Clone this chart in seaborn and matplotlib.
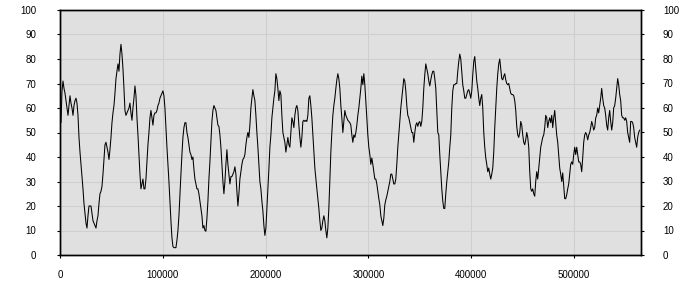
import numpy as np
import pandas as pd
import matplotlib
matplotlib.use("Agg")
import matplotlib.pyplot as plt
import seaborn as sns

# ---- data ----
x_start = 0
x_end = 564000
y_ticks = [0, 10, 20, 30, 40, 50, 60, 70, 80, 90, 100]
x_ticks = [0, 100000, 200000, 300000, 400000, 500000]

values = [
    # 0 .. ~69000
    58, 54, 67, 71, 68, 66, 63, 60, 57, 61, 65, 62, 60, 57, 61, 63, 64, 62, 57, 48,
    42, 37, 32, 27, 21, 17, 13, 11, 16, 20, 20, 20, 17, 14, 13, 12, 11, 14, 16, 21,
    25, 26, 28, 33, 39, 45, 46, 44, 42, 39, 43, 48, 54, 58, 61, 66, 72, 75, 78, 75,
    82, 86, 82, 76, 68, 59, 57, 58, 59, 60, 62, 58,
    # ~70000 .. ~140000
    55, 60, 64, 69, 65, 56, 49, 41, 33, 27, 29, 31, 27, 27, 31, 38, 45, 50, 56, 59,
    56, 53, 57, 58, 58, 59, 61, 62, 64, 65, 66, 67, 65, 60, 52, 44, 37, 30, 22, 14,
    7, 3.5, 3, 3, 3, 6, 10, 16, 25, 33, 41, 48, 52, 54, 54, 50, 48, 45, 42, 41,
    39, 40, 35, 31, 29, 27, 27, 25, 22, 19, 16, 11,
    12,
    # ~141000 .. ~212000
    10, 9.7, 15, 22, 31, 38, 46, 54.5, 59, 61, 60, 59, 56, 53, 52.5, 49, 44, 37, 30, 25,
    30, 37, 43, 37, 33, 29, 32, 32, 33, 34, 36, 33, 26, 20, 25, 31, 34, 37, 39, 39.6,
    41, 45, 48, 50, 48, 53, 60, 64, 67.5, 65, 63, 57, 50, 44, 37, 30, 27, 22, 18, 12,
    8, 11, 19, 27, 35, 44, 49, 56, 60, 64, 67, 74, 72,
    # ~213000 .. ~283000
    68, 63, 67, 65.5, 57, 50, 48, 46, 42, 45, 48, 45, 44, 50, 56, 54.5, 52, 57, 60, 61,
    59, 53, 48, 44, 48, 54.5, 55, 54.5, 55, 54.5, 57, 64, 65, 61, 56, 49, 42, 35.5, 31, 27,
    23, 19, 14, 10, 11, 14, 16, 14, 10, 7, 11, 19, 30, 42, 50, 57, 61, 64, 68, 71.5,
    74, 72, 68, 61, 56, 50, 54.5, 59, 57, 56, 55, 54.5, 54,
    # ~284000 .. ~354000
    53, 49, 46, 49, 48, 50, 53, 57, 60, 64, 68, 73, 69.5, 74, 69.5, 63, 56, 49, 44, 41,
    37, 39.6, 37, 34, 31, 31, 29, 26, 23, 20.5, 16, 14, 12, 15, 20.5, 22.5, 24, 26, 28, 30,
    33, 33, 31, 29, 29, 31, 37, 44, 49, 54.5, 60, 64, 68, 72, 71, 67, 61, 57, 56, 54,
    52, 50, 50, 46, 50, 53, 54, 52.5, 54, 54.5, 52.5, 54.5, 60,
    # ~355000 .. ~425000
    68, 73.6, 78, 76, 74, 71, 69, 71.5, 73.6, 75, 75, 72, 68, 59, 50, 49, 41, 34, 27, 22,
    19, 19, 25, 30, 34, 38, 44, 49, 60, 67, 69.5, 69.5, 70, 70, 75, 79, 82, 80, 75, 69.5,
    67, 64, 64, 65.5, 67, 67.5, 66, 64, 67, 73.6, 79, 81, 76, 71, 68, 64, 61, 64, 65.5, 60,
    50, 44, 39.6, 37, 34, 35.5, 33, 31, 33, 35.5, 42, 52, 60,
    # ~426000 .. ~496000
    68, 74, 78, 80, 76, 72, 71.5, 73, 74, 71.5, 70, 69.5, 70, 68, 66, 65.5, 65.5, 65, 63, 59,
    52.5, 49, 48, 50, 54.5, 53, 49, 46, 45, 47, 50, 48, 44, 34, 27, 26, 27, 25, 24, 30,
    34, 31, 35.5, 39.6, 44, 46, 48, 49, 52, 57, 56, 52, 54.5, 56, 54, 57, 52, 56, 59, 54,
    49, 46, 41, 35.5, 33, 30, 33.5, 28, 23, 23, 24.6, 27, 29,
    # ~497000 .. 564000
    33, 37, 38, 37, 41, 44, 41, 44, 41, 38, 38, 37, 34, 39.6, 46, 49, 50, 49, 47, 49,
    50, 52, 54.5, 53, 51, 52, 56, 57, 60, 58, 61, 64, 68, 64, 61, 60, 57, 53, 51, 56,
    59, 54.5, 51, 54, 60, 61, 64, 68, 72, 69.5, 65.5, 63, 57, 56, 56, 55, 56, 54.5, 50, 48,
    46, 54.5, 54.5, 54, 52, 48, 46, 44, 48, 50, 51,
]

positions = np.linspace(x_start, x_end, len(values))
df = pd.DataFrame({"pos": positions, "val": values})

# ---- styling ----
sns.set_style("white")
plt.rcParams["font.family"] = ["Liberation Sans", "DejaVu Sans"]

fig = plt.figure(figsize=(7, 3), dpi=100)
ax = fig.add_axes([60 / 700, 45 / 300, 580.7 / 700, 245 / 300])
ax.set_facecolor("#e0e0e0")

sns.lineplot(data=df, x="pos", y="val", ax=ax, color="black", linewidth=0.75)

ax.set_xlim(0, 565000)
ax.set_ylim(0, 100)
ax.set_xticks(x_ticks)
ax.set_xticklabels([str(t) for t in x_ticks])
ax.set_yticks(y_ticks)
ax.set_yticklabels([str(t) for t in y_ticks])
ax.grid(True, color="#cfcfcf", linewidth=0.8)
ax.set_axisbelow(True)
ax.set_xlabel("")
ax.set_ylabel("")
for s in ax.spines.values():
    s.set_color("black")
    s.set_linewidth(1.0)

ax.tick_params(axis="x", length=2.5, width=0.8, pad=8, labelsize=7, colors="black", direction="out", bottom=True)
ax.tick_params(axis="y", length=2, width=0.8, pad=15, labelsize=7, colors="black", direction="out", left=True)

ax2 = ax.twinx()
ax2.set_ylim(0, 100)
ax2.set_yticks(y_ticks)
ax2.set_yticklabels([str(t) for t in y_ticks])
ax2.tick_params(axis="y", length=2, width=0.8, pad=14, labelsize=7, colors="black", direction="out", right=True)
ax2.grid(False)
for s in ax2.spines.values():
    s.set_color("black")
    s.set_linewidth(1.0)

fig.savefig("out.png", dpi=100)
